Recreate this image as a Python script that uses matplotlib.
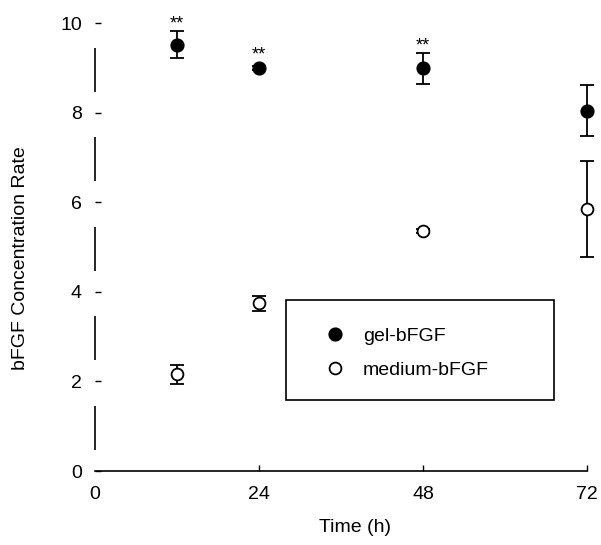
import matplotlib
matplotlib.use("Agg")
import matplotlib.pyplot as plt
from matplotlib.patches import Rectangle

plt.rcParams['font.family'] = ['Liberation Sans', 'DejaVu Sans']

time_h = [12, 24, 48, 72]
gel_mean = [9.52, 9.00, 8.99, 8.04]
gel_err = [0.31, 0.05, 0.35, 0.57]
med_mean = [2.16, 3.74, 5.36, 5.85]
med_err = [0.21, 0.16, 0.04, 1.07]
sig_marks = ['**', '**', '**', '']
x_ticks = [0, 24, 48, 72]
y_ticks = [0, 2, 4, 6, 8, 10]

fig = plt.figure(figsize=(6.01, 5.45), dpi=100)
ax = fig.add_axes([95/601, 1-471/545, 492/601, 466/545])
ax.set_xlim(0, 72)
ax.set_ylim(0, 466/44.8)

ax.errorbar(time_h, gel_mean, yerr=gel_err, fmt='o', color='black', ms=9.2,
            mfc='black', mec='black', ecolor='black', elinewidth=1.3, capsize=5,
            capthick=1.3, clip_on=False, zorder=3, label='gel-bFGF')
ax.errorbar(time_h, med_mean, yerr=med_err, fmt='o', color='black', ms=8.5,
            mfc='white', mec='black', mew=1.3, ecolor='black', elinewidth=1.3,
            capsize=5, capthick=1.3, clip_on=False, zorder=3, label='medium-bFGF')

for x, m, e, s in zip(time_h, gel_mean, gel_err, sig_marks):
    if s:
        ax.annotate(s, (x, m + max(e, 0.14)), xytext=(0, 1.5), textcoords='offset points',
                    ha='center', va='baseline', fontsize=13)

# spines
for side in ['top', 'right', 'left']:
    ax.spines[side].set_visible(False)
ax.spines['bottom'].set_linewidth(1.2)

# broken y-axis line segments between ticks
for v in y_ticks[:-1]:
    ax.plot([0, 0], [v + 0.47, v + 1.45], color='black', lw=1.2, clip_on=False,
            solid_capstyle='butt')

ax.set_xticks(x_ticks)
ax.set_yticks(y_ticks)
ax.tick_params(axis='y', direction='in', length=4, width=1, pad=9.5, labelsize=14)
ax.tick_params(axis='x', direction='in', length=4, width=1, pad=10.5, labelsize=14)
ax.xaxis.get_major_ticks()[0].tick1line.set_visible(False)

ax.set_xlabel('Time (h)', fontsize=14)
ax.xaxis.set_label_coords(0.528, -0.103)
ax.text(-0.152, 0.457, 'bFGF Concentration Rate', transform=ax.transAxes,
        rotation=90, ha='center', va='center', fontsize=14)

# legend box
ax.add_patch(Rectangle((191/492, 71/466), 268/492, 100/466, transform=ax.transAxes,
                       fill=False, edgecolor='black', lw=1.2, clip_on=False))
handles, labels = ax.get_legend_handles_labels()
handles = [h[0] for h in handles]
leg = ax.legend(handles, labels, loc='upper left', bbox_to_anchor=(0.468, 0.309),
                frameon=False, fontsize=14, borderpad=0, handlelength=1.0,
                handletextpad=0.95, labelspacing=0.85, borderaxespad=0)

fig.savefig('out.png', dpi=100)
